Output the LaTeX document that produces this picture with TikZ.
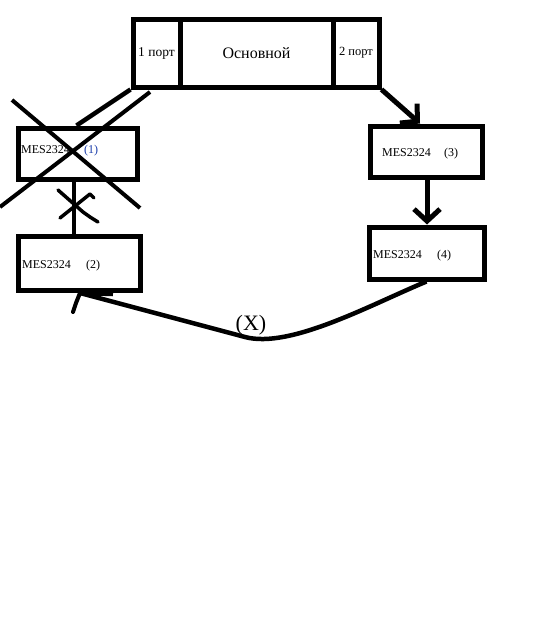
\documentclass[tikz,border=0pt]{standalone}
\usepackage{fontspec}
\setmainfont{Liberation Serif}
\usepackage{xcolor}
\usetikzlibrary{positioning, calc, arrows.meta}
\definecolor{numblue}{RGB}{25,60,170}

\begin{document}
\begin{tikzpicture}[x=1pt, y=-1pt,
    cell/.style={draw, line width=5pt, minimum height=68pt, inner sep=0pt,
                 font=\fontsize{13.5}{15}\selectfont},
    box/.style={draw, line width=5pt, minimum height=51pt, inner sep=0pt},
    lbl/.style={font=\fontsize{12}{14}\selectfont, inner sep=0pt, anchor=base west},
    ln/.style={line width=4.5pt},
    arw/.style={line width=5pt, -{Straight Barb[length=12pt, width=26pt]}},
    hand/.style={line width=3.5pt, line cap=round, line join=round},
]
\useasboundingbox (0,0) rectangle (548,637);

% main switch with its two ports
\node[cell, minimum width=47pt] (p1) at (156.5,53) {1 порт};
\node[cell, minimum width=153pt, font=\fontsize{16}{18}\selectfont] (osn) at (256.5,53) {Основной};
\node[cell, minimum width=46pt, font=\fontsize{12.5}{15}\selectfont] (p2) at (356,53) {2 порт};

% ring switches
\node[box, minimum width=119pt] (sw1) at (77.5,153.5) {};
\node[box, minimum width=122pt, minimum height=54pt] (sw2) at (79,263) {};
\node[box, minimum width=112pt] (sw3) at (426,151.5) {};
\node[box, minimum width=115pt, minimum height=52pt] (sw4) at (426.5,253) {};

\node[lbl] (m1) at (21,153) {MES2324};
\node[lbl, text=numblue] (n1) at (84,153) {(1)};
\node[lbl] (m2) at (22,268) {MES2324};
\node[lbl] (n2) at (86,268) {(2)};
\node[lbl] (m3) at (382,156) {MES2324};
\node[lbl] (n3) at (444,156) {(3)};
\node[lbl] (m4) at (373,258) {MES2324};
\node[lbl] (n4) at (437,258) {(4)};

% links
\draw[ln] (p1.south west) -- ([xshift=-1pt]sw1.north);
\draw[arw] (p2.south east) -- ([xshift=-6pt]sw3.north);
\draw[arw] ([xshift=1pt]sw3.south) -- ([xshift=1pt]sw3.south |- sw4.north);
\draw[ln] ([xshift=-3.5pt]sw1.south) -- ([xshift=-3.5pt]sw1.south |- sw2.north);

% broken switch and broken link
\draw[line width=4pt] (150,92) -- (0,207);
\draw[line width=4pt] (12,100) -- (140,208);
\draw[hand] (58,190) -- (83,212) -- (90,217) -- (98,222);
\draw[hand] (60,218) -- (90,194) -- (94,198);

% backup path
\coordinate (tip) at ($(sw2.south)+(1,0.5)$);
\draw[ln] (sw4.south) .. controls (370,305) and (290,349) .. (245,337) -- (tip);
\draw[hand, line width=4pt] (tip) -- ++(-4,10) -- ++(-3,9);
\draw[ln] (tip) -- ++(33,1);
\node[font=\fontsize{22}{24}\selectfont, inner sep=0pt, anchor=base] (cut) at (251,330) {(X)};
\end{tikzpicture}
\end{document}
